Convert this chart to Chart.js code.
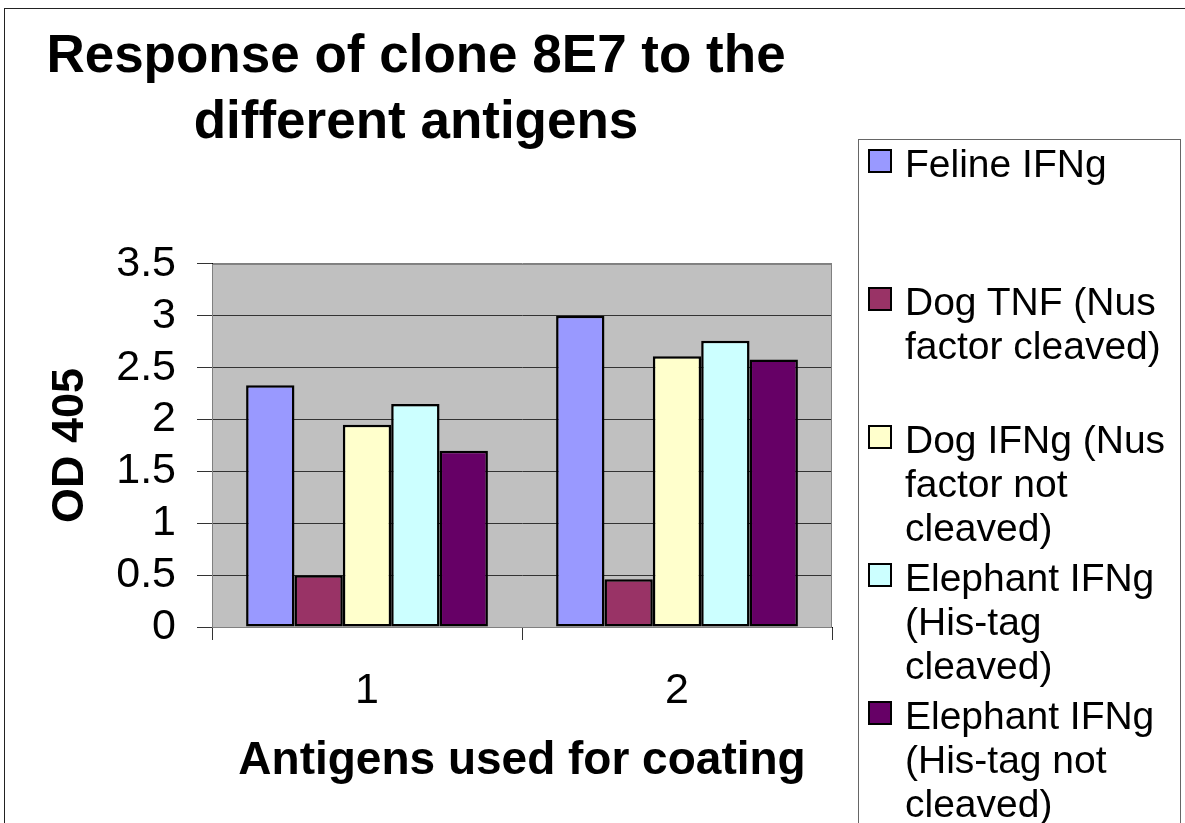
<!DOCTYPE html>
<html>
<head>
<meta charset="utf-8">
<script src="https://cdn.jsdelivr.net/npm/chart.js@4"></script>
<style>
  body { margin: 0; background: #fff; overflow: hidden; }
  #wrap { position: relative; width: 1185px; height: 823px; overflow: hidden; }
  #frame { position: absolute; left: 4px; top: 8px; width: 1200px; height: 900px; border: 1px solid #222; }
  #chart { position: absolute; left: 0; top: 0; }
  #legend {
    position: absolute; left: 858px; top: 139px; width: 321px; height: 720px;
    border: 1px solid #666; background: #fff;
    font-family: "Liberation Sans", Arial, sans-serif; font-size: 39px; line-height: 44px; color: #000;
  }
  .item { position: absolute; left: 0; width: 321px; }
  .swatch { position: absolute; left: 9px; top: 7px; width: 20px; height: 20px; border: 2px solid #000; }
  .label { position: absolute; left: 46px; width: 278px; }
</style>
</head>
<body>
<div id="wrap">
  <div id="frame"></div>
  <canvas id="chart" width="1185" height="823"></canvas>
  <div id="legend"></div>
</div>
<script>
const categories = ['1', '2'];
const felineIFNg = [2.33, 3.0];
const dogTNF = [0.5, 0.46];
const dogIFNg = [1.95, 2.61];
const elephantCleaved = [2.15, 2.76];
const elephantNotCleaved = [1.7, 2.58];
const seriesNames = [
    'Feline IFNg',
    'Dog TNF (Nus factor cleaved)',
    'Dog IFNg (Nus factor not cleaved)',
    'Elephant IFNg (His-tag cleaved)',
    'Elephant IFNg (His-tag not cleaved)'
];
const seriesColors = ['#9999FF', '#993366', '#FFFFCC', '#CCFFFF', '#660066'];
const yTickLabels = ['0', '0.5', '1', '1.5', '2', '2.5', '3', '3.5'];

Chart.defaults.font.family = '"Liberation Sans", Arial, sans-serif';
Chart.defaults.color = '#000';

const seriesValues = [felineIFNg, dogTNF, dogIFNg, elephantCleaved, elephantNotCleaved];

// grey plot area with a thin grey frame
const plotBackground = {
    id: 'plotBackground',
    beforeDraw(chart) {
        const { ctx, chartArea: a } = chart;
        ctx.save();
        ctx.fillStyle = '#C0C0C0';
        ctx.fillRect(a.left, a.top, a.right - a.left, a.bottom - a.top);
        ctx.restore();
    },
    beforeDatasetsDraw(chart) {
        const { ctx, chartArea: a } = chart;
        ctx.save();
        ctx.strokeStyle = '#808080';
        ctx.lineWidth = 1;
        ctx.strokeRect(a.left + 0.5, a.top + 0.5, a.right - a.left - 1, a.bottom - a.top);
        ctx.restore();
    }
};

const chart = new Chart(document.getElementById('chart'), {
    type: 'bar',
    data: {
        labels: categories,
        datasets: seriesNames.map((name, i) => ({
            label: name,
            data: seriesValues[i],
            backgroundColor: seriesColors[i],
            borderColor: '#000',
            borderWidth: 2.5,
            borderSkipped: false,
            categoryPercentage: 0.78,
            barPercentage: 1.0
        }))
    },
    options: {
        responsive: false,
        animation: false,
        layout: { padding: { left: 0, right: 353, top: 0, bottom: 0 } },
        plugins: {
            legend: { display: false },
            tooltip: { enabled: false },
            title: {
                display: true,
                text: ['Response of clone 8E7 to the', 'different antigens'],
                font: { size: 53, weight: 'bold', lineHeight: 1.245 },
                color: '#000',
                padding: { top: 24, bottom: 108 }
            }
        },
        scales: {
            x: {
                offset: true,
                grid: { drawOnChartArea: false, drawTicks: true, tickLength: 13, color: '#333', offset: true },
                border: { color: '#000', width: 1 },
                ticks: { font: { size: 43 }, padding: 25, color: '#000' },
                title: {
                    display: true,
                    text: 'Antigens used for coating',
                    font: { size: 46, weight: 'bold' },
                    padding: { top: 0, bottom: 34 }
                },
                afterFit(scale) { scale.height = 196; }
            },
            y: {
                min: 0,
                max: 3.5,
                ticks: {
                    stepSize: 0.5,
                    autoSkip: false,
                    font: { size: 43 },
                    padding: 21,
                    color: '#000',
                    callback: (v, i) => yTickLabels[i]
                },
                grid: {
                    tickLength: 15,
                    color: (c) => (c.tick && c.tick.value === 3.5 ? '#808080' : '#333'),
                    tickColor: '#333'
                },
                border: { color: '#000', width: 1 },
                title: {
                    display: true,
                    text: 'OD 405',
                    font: { size: 45, weight: 'bold' },
                    padding: { top: 44, bottom: 0 }
                },
                afterFit(scale) { scale.width = 212; }
            }
        }
    },
    plugins: [plotBackground]
});

// legend on the right, built from the datasets
const legendDiv = document.getElementById('legend');
chart.data.datasets.forEach((ds, i) => {
    const item = document.createElement('div');
    item.className = 'item';
    item.style.top = (2 + i * 138) + 'px';
    const sw = document.createElement('div');
    sw.className = 'swatch';
    sw.style.background = ds.backgroundColor;
    const lab = document.createElement('div');
    lab.className = 'label';
    lab.textContent = ds.label;
    item.appendChild(sw);
    item.appendChild(lab);
    legendDiv.appendChild(item);
});
</script>
</body>
</html>
